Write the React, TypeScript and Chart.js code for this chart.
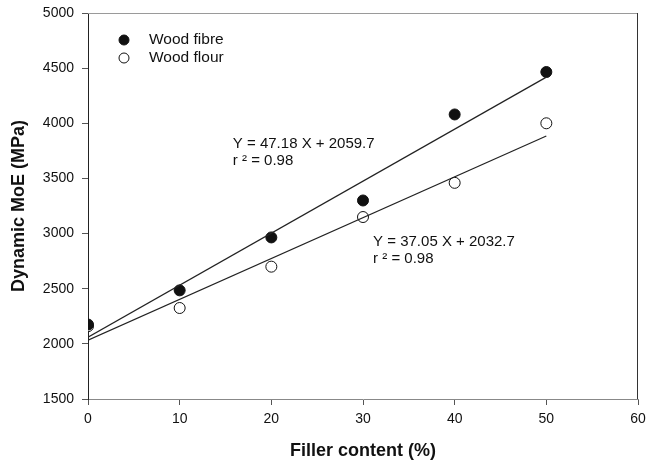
import React, { useEffect, useRef } from "react";
import { Chart, registerables } from "chart.js";

Chart.register(...registerables);

const fibreX = [0, 10, 20, 30, 40, 50];
const fibreY = [2175, 2485, 2965, 3300, 4080, 4465];
const flourX = [0, 10, 20, 30, 40, 50];
const flourY = [2160, 2325, 2700, 3150, 3460, 4000];
const fibreFit = { slope: 47.18, intercept: 2059.7 };
const flourFit = { slope: 37.05, intercept: 2032.7 };
const fitRange = [0, 50];
const xTicks = [0, 10, 20, 30, 40, 50, 60];
const yTicks = [1500, 2000, 2500, 3000, 3500, 4000, 4500, 5000];
const legendLabels = ["Wood fibre", "Wood flour"];
const eqLabels = [
  { x: 15.8, y: 3810, lines: ["Y = 47.18 X + 2059.7", "r ² = 0.98"] },
  { x: 31.1, y: 2925, lines: ["Y = 37.05 X + 2032.7", "r ² = 0.98"] },
];

const FONT = "'Liberation Sans', Arial, sans-serif";

const overlay = {
  id: "overlay",
  afterDatasetsDraw(chart: any) {
    const { ctx, chartArea, scales } = chart;
    ctx.save();
    ctx.lineWidth = 1;
    ctx.strokeStyle = "#9a9a9a";
    ctx.beginPath();
    ctx.moveTo(chartArea.left, chartArea.top + 0.5);
    ctx.lineTo(chartArea.right, chartArea.top + 0.5);
    ctx.stroke();
    ctx.strokeStyle = "#333";
    ctx.beginPath();
    ctx.moveTo(chartArea.right - 0.5, chartArea.top);
    ctx.lineTo(chartArea.right - 0.5, chartArea.bottom);
    ctx.stroke();
    // legend
    ctx.font = `15.5px ${FONT}`;
    ctx.textBaseline = "middle";
    ctx.textAlign = "left";
    const lx = chartArea.left + 36;
    const ly = chartArea.top + 27;
    legendLabels.forEach((lab, i) => {
      const y = ly + i * 18;
      ctx.beginPath();
      ctx.arc(lx, y, 5, 0, Math.PI * 2);
      ctx.fillStyle = i === 0 ? "#111" : "#fff";
      ctx.fill();
      ctx.strokeStyle = "#111";
      ctx.lineWidth = 1;
      ctx.stroke();
      ctx.fillStyle = "#111";
      ctx.fillText(lab, lx + 25, y);
    });
    // equations
    ctx.font = `15px ${FONT}`;
    eqLabels.forEach((e) => {
      const px = scales.x.getPixelForValue(e.x);
      const py = scales.y.getPixelForValue(e.y);
      e.lines.forEach((t, i) => {
        ctx.fillText(t, px, py + i * 17);
      });
    });
    ctx.restore();
  },
};

export default function App() {
  const ref = useRef<HTMLCanvasElement>(null);
  useEffect(() => {
    const fitLine = (f: { slope: number; intercept: number }) =>
      fitRange.map((x) => ({ x, y: f.slope * x + f.intercept }));
    const chart = new Chart(ref.current as HTMLCanvasElement, {
      type: "scatter",
      data: {
        datasets: [
          {
            type: "line",
            label: "fibre fit",
            data: fitLine(fibreFit),
            borderColor: "#222",
            borderWidth: 1.2,
            pointRadius: 0,
            fill: false,
          } as any,
          {
            type: "line",
            label: "flour fit",
            data: fitLine(flourFit),
            borderColor: "#222",
            borderWidth: 1.2,
            pointRadius: 0,
            fill: false,
          } as any,
          {
            label: legendLabels[0],
            data: fibreX.map((x, i) => ({ x, y: fibreY[i] })),
            backgroundColor: "#111",
            borderColor: "#111",
            borderWidth: 1,
            pointRadius: 5.5,
          },
          {
            label: legendLabels[1],
            data: flourX.map((x, i) => ({ x, y: flourY[i] })),
            backgroundColor: "#fff",
            borderColor: "#111",
            borderWidth: 1,
            pointRadius: 5.5,
          },
        ],
      },
      options: {
        animation: false,
        responsive: false,
        maintainAspectRatio: false,
        layout: { padding: { top: 13, right: 9, left: 0, bottom: 0 } },
        plugins: { legend: { display: false }, tooltip: { enabled: false } },
        scales: {
          x: {
            type: "linear",
            min: 0,
            max: 60,
            afterBuildTicks: (s: any) => {
              s.ticks = xTicks.map((v) => ({ value: v }));
            },
            afterFit: (s: any) => {
              s.height = 66;
              s.paddingLeft = 0;
              s.paddingRight = 0;
            },
            grid: {
              display: true,
              drawOnChartArea: false,
              drawTicks: true,
              tickLength: 6,
              color: "#555",
            },
            border: { display: true, color: "#888", width: 1 },
            ticks: {
              color: "#111",
              padding: 6,
              maxRotation: 0,
              font: { family: FONT, size: 14 },
              callback: (v: any) => String(v),
            },
            title: {
              display: true,
              text: "Filler content (%)",
              color: "#111",
              padding: { top: 6, bottom: 3 },
              font: { family: FONT, size: 18, weight: "bold" },
            },
          },
          y: {
            type: "linear",
            min: 1500,
            max: 5000,
            afterBuildTicks: (s: any) => {
              s.ticks = yTicks.map((v) => ({ value: v }));
            },
            afterFit: (s: any) => {
              s.width = 88;
              s.paddingTop = 0;
              s.paddingBottom = 0;
            },
            grid: {
              display: true,
              drawOnChartArea: false,
              drawTicks: true,
              tickLength: 6,
              color: "#555",
            },
            border: { display: true, color: "#222", width: 1 },
            ticks: {
              color: "#111",
              padding: 8,
              font: { family: FONT, size: 14 },
              callback: (v: any) => String(v),
            },
            title: {
              display: true,
              text: "Dynamic MoE (MPa)",
              color: "#111",
              padding: { top: 8, bottom: 4 },
              font: { family: FONT, size: 18, weight: "bold" },
            },
          },
        },
      },
      plugins: [overlay],
    });
    return () => chart.destroy();
  }, []);
  return (
    <div style={{ position: "fixed", left: 0, top: 0, width: 647, height: 465, background: "#fff" }}>
      <canvas ref={ref} width={647} height={465} style={{ display: "block" }} />
    </div>
  );
}
